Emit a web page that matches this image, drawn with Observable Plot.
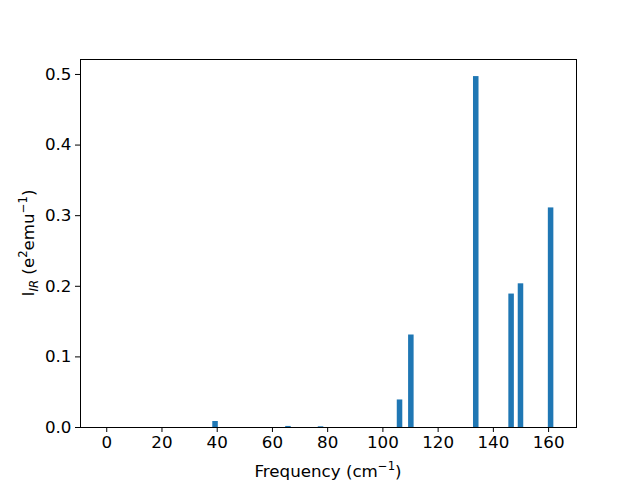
<!DOCTYPE html>
<html><head><meta charset="utf-8">
<script src="https://cdn.jsdelivr.net/npm/d3@7"></script>
<script src="https://cdn.jsdelivr.net/npm/@observablehq/plot@0.6"></script>
<style>body{margin:0;background:#fff}</style>
</head><body><div id="chart"></div>
<script>
const freqs = [0, 39.4, 65.8, 77.6, 106.2, 110.3, 133.8, 146.6, 150.0, 160.9];
const intensities = [0, 0.0085, 0.0015, 0.001, 0.039, 0.131, 0.497, 0.189, 0.2035, 0.311];
const xTicks = [0, 20, 40, 60, 80, 100, 120, 140, 160];
const yTicks = [0, 0.1, 0.2, 0.3, 0.4, 0.5];
const barWidth = 2;

const data = freqs.map((f, i) => ({f, v: intensities[i]}));

const plot = Plot.plot({
  width: 640, height: 480,
  marginLeft: 80, marginRight: 64, marginTop: 59, marginBottom: 53,
  style: {fontFamily: "DejaVu Sans", fontSize: "16.7px", color: "black", background: "white"},
  x: {domain: [-9.5, 170.1]},
  y: {domain: [0, 0.5212]},
  marks: [
    Plot.rectY(data, {x1: d => d.f - barWidth/2, x2: d => d.f + barWidth/2, y: "v", fill: "#1f77b4", inset: 0}),
    Plot.frame({stroke: "black", strokeWidth: 1}),
    Plot.axisX({ticks: xTicks, tickSize: 5, tickPadding: 4, label: null, fontSize: 16.7, tickFormat: d => String(d)}),
    Plot.axisY({ticks: yTicks, tickSize: 5, tickPadding: 4, label: null, fontSize: 16.7, tickFormat: d3.format(".1f")})
  ]
});
document.getElementById("chart").appendChild(plot);

const svg = d3.select(plot);
const xl = svg.append("text").attr("x", 328).attr("y", 477).attr("text-anchor", "middle")
  .attr("font-family", "DejaVu Sans").attr("font-size", "16.7px").attr("fill", "black");
xl.append("tspan").text("Frequency (cm");
xl.append("tspan").attr("dy", -7).attr("font-size", "11.7px").text("−1");
xl.append("tspan").attr("dy", 7).text(")");

const yl = svg.append("text").attr("transform", "translate(34,243) rotate(-90)").attr("text-anchor", "middle")
  .attr("font-family", "DejaVu Sans").attr("font-size", "16.7px").attr("fill", "black");
yl.append("tspan").text("I");
yl.append("tspan").attr("dy", 3.5).attr("font-size", "11.7px").attr("font-style", "italic").text("IR");
yl.append("tspan").attr("dy", -3.5).text(" (e");
yl.append("tspan").attr("dy", -7).attr("font-size", "11.7px").text("2");
yl.append("tspan").attr("dy", 7).text("emu");
yl.append("tspan").attr("dy", -7).attr("font-size", "11.7px").text("−1");
yl.append("tspan").attr("dy", 7).text(")");
</script>
</body></html>
